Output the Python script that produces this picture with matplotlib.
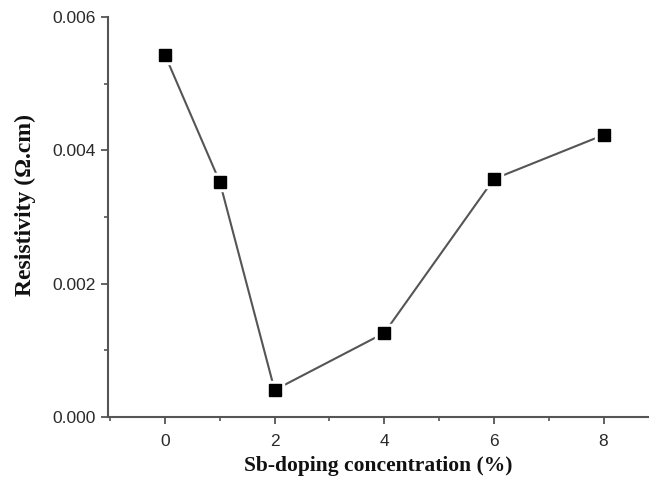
import matplotlib.pyplot as plt
from matplotlib.ticker import MultipleLocator

# Sb doping level (%) and measured resistivity (ohm.cm)
sb_doping = [0, 1, 2, 4, 6, 8]
resistivity = [0.00543, 0.003525, 0.000405, 0.00126, 0.00357, 0.00423]

fig = plt.figure(figsize=(6.49, 4.79), dpi=100)
ax = fig.add_axes([0.1664, 0.1294, 0.8336, 0.8351])

line_col = '#555555'
ax.plot(sb_doping, resistivity, color=line_col, lw=1.5, zorder=1)
# white halo so the line stops short of each marker
ax.plot(sb_doping, resistivity, ls='none', marker='s', ms=13,
        color='white', zorder=2)
ax.plot(sb_doping, resistivity, ls='none', marker='s', ms=8,
        color='black', zorder=3)

ax.set_xlim(-1.04, 8.83)
ax.set_ylim(0, 0.006)
ax.xaxis.set_major_locator(MultipleLocator(2))
ax.xaxis.set_minor_locator(MultipleLocator(1))
ax.yaxis.set_major_locator(MultipleLocator(0.002))
ax.yaxis.set_minor_locator(MultipleLocator(0.001))
ax.yaxis.set_major_formatter(plt.FuncFormatter(lambda v, p: f'{v:.3f}'))

for side in ['top', 'right']:
    ax.spines[side].set_visible(False)
for side in ['left', 'bottom']:
    ax.spines[side].set_color(line_col)
    ax.spines[side].set_linewidth(1.5)

ax.tick_params(which='major', direction='out', length=5, width=1.3,
               color=line_col, labelsize=12.5, labelcolor='#2a2a2a')
ax.tick_params(axis='x', which='major', pad=7.5)
ax.tick_params(axis='y', which='major', pad=4)
ax.tick_params(which='minor', direction='out', length=3, width=1.2,
               color=line_col)
for lbl in ax.get_xticklabels() + ax.get_yticklabels():
    lbl.set_family('Liberation Sans')

ax.set_xlabel('Sb-doping concentration (%)', fontsize=15.5, fontweight='bold',
              family='Liberation Serif', color='#111111', labelpad=5)
ax.set_ylabel('Resistivity (\u03a9.cm)', fontsize=17, fontweight='bold',
              family='Liberation Serif', color='#111111')
ax.yaxis.set_label_coords(-0.133, 0.53)

fig.savefig('out.png', dpi=100)
